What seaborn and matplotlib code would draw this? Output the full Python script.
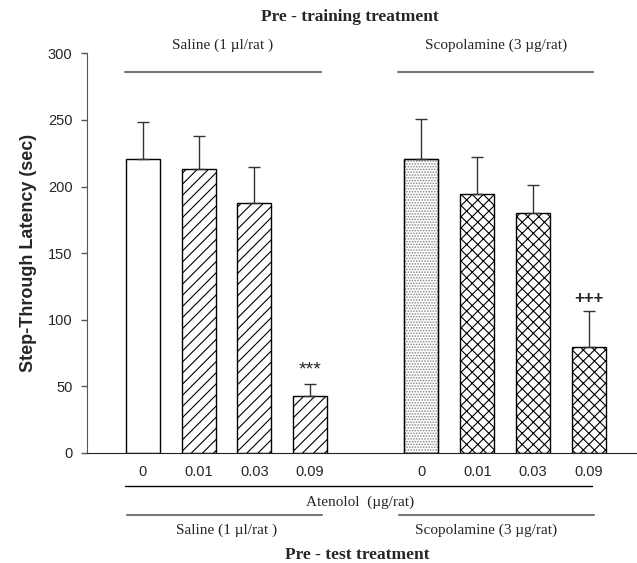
import numpy as np
import pandas as pd
import matplotlib
matplotlib.use("Agg")
import matplotlib.pyplot as plt
import seaborn as sns
from matplotlib.patches import Rectangle

# 数据
positions = [0, 1, 2, 3, 5, 6, 7, 8]
dose_labels = ["0", "0.01", "0.03", "0.09", "0", "0.01", "0.03", "0.09"]
means = [220.5, 213.5, 187.5, 42.7, 220.5, 194.2, 180.5, 79.7]
sems = [28, 24.5, 27, 9, 30, 28, 20.7, 27]
hatches = ["", "///", "///", "///", "......", "xxx", "xxx", "xxx"]
marks = {3: "***", 7: "+++"}
y_ticks = [0, 50, 100, 150, 200, 250, 300]

df = pd.DataFrame({"pos": positions, "mean": means})

sns.set_style("ticks")
plt.rcParams["font.family"] = ["Liberation Sans", "DejaVu Sans"]
plt.rcParams["hatch.linewidth"] = 0.8
serif = ["Liberation Serif", "DejaVu Serif"]

fig = plt.figure(figsize=(6.37, 5.63), dpi=100)
ax = fig.add_axes([0.1366, 0.1954, 0.862, 0.7099])

sns.barplot(data=df, x="pos", y="mean", native_scale=True, width=0.61,
            color="white", edgecolor="black", linewidth=1.0, ax=ax)

for p, h in zip(ax.patches, hatches):
    p.set_facecolor("white")
    p.set_hatch(h)
    if h.startswith("."):
        # 点状填充用灰色，再补一个黑色外框
        p.set_edgecolor("#888888")
        ax.add_patch(Rectangle(p.get_xy(), p.get_width(), p.get_height(),
                               fill=False, edgecolor="black", linewidth=1.0))

ax.errorbar(positions, means, yerr=[np.zeros(len(sems)), sems], fmt="none",
            ecolor="#333333", elinewidth=1.0, capsize=4.5, capthick=1.0)

for i, s in marks.items():
    ax.text(positions[i], means[i] + sems[i] + 4, s, ha="center", va="bottom",
            fontsize=14 if s == "***" else 12, fontweight="bold" if s == "+++" else "normal")

ax.set_ylim(0, 300)
ax.set_xlim(-1.0, 8.85)
ax.set_yticks(y_ticks)
ax.set_yticklabels([str(t) for t in y_ticks], fontsize=10.5)
ax.set_xticks(positions)
ax.set_xticklabels(dose_labels, fontsize=10.5)
ax.tick_params(axis="x", length=0, pad=9)
ax.tick_params(axis="y", length=4.5, width=1, color="#555555", pad=6)
ax.set_xlabel("")
ax.set_ylabel("Step-Through Latency (sec)", fontsize=13, fontweight="bold", labelpad=8)
sns.despine(ax=ax, top=True, right=True)
ax.spines["left"].set_color("#555555")
ax.spines["bottom"].set_color("#222222")

tr = ax.get_xaxis_transform()

# 上方注释
ax.text(3.71, 1.0916, "Pre - training treatment", transform=tr, ha="center", va="center",
        fontsize=12.5, fontweight="bold", family=serif)
ax.text(1.43, 1.0208, "Saline (1 µl/rat )", transform=tr, ha="center", va="center",
        fontsize=11, family=serif)
ax.text(6.34, 1.0208, "Scopolamine (3 µg/rat)", transform=tr, ha="center", va="center",
        fontsize=11, family=serif)
ax.plot([-0.32, 3.19], [0.954, 0.954], transform=tr, color="#777777", lw=1.5, clip_on=False)
ax.plot([4.57, 8.08], [0.954, 0.954], transform=tr, color="#777777", lw=1.5, clip_on=False)

# 下方注释
ax.plot([-0.32, 8.06], [-0.0826, -0.0826], transform=tr, color="black", lw=1.0, clip_on=False)
ax.text(3.89, -0.1226, "Atenolol  (µg/rat)", transform=tr, ha="center", va="center",
        fontsize=11, family=serif)
ax.plot([-0.29, 3.21], [-0.155, -0.155], transform=tr, color="#777777", lw=1.5, clip_on=False)
ax.plot([4.59, 8.1], [-0.155, -0.155], transform=tr, color="#777777", lw=1.5, clip_on=False)
ax.text(1.5, -0.1926, "Saline (1 µl/rat )", transform=tr, ha="center", va="center",
        fontsize=11, family=serif)
ax.text(6.16, -0.1926, "Scopolamine (3 µg/rat)", transform=tr, ha="center", va="center",
        fontsize=11, family=serif)
ax.text(3.85, -0.255, "Pre - test treatment", transform=tr, ha="center", va="center",
        fontsize=12.5, fontweight="bold", family=serif)

fig.savefig("out.png", dpi=100)
